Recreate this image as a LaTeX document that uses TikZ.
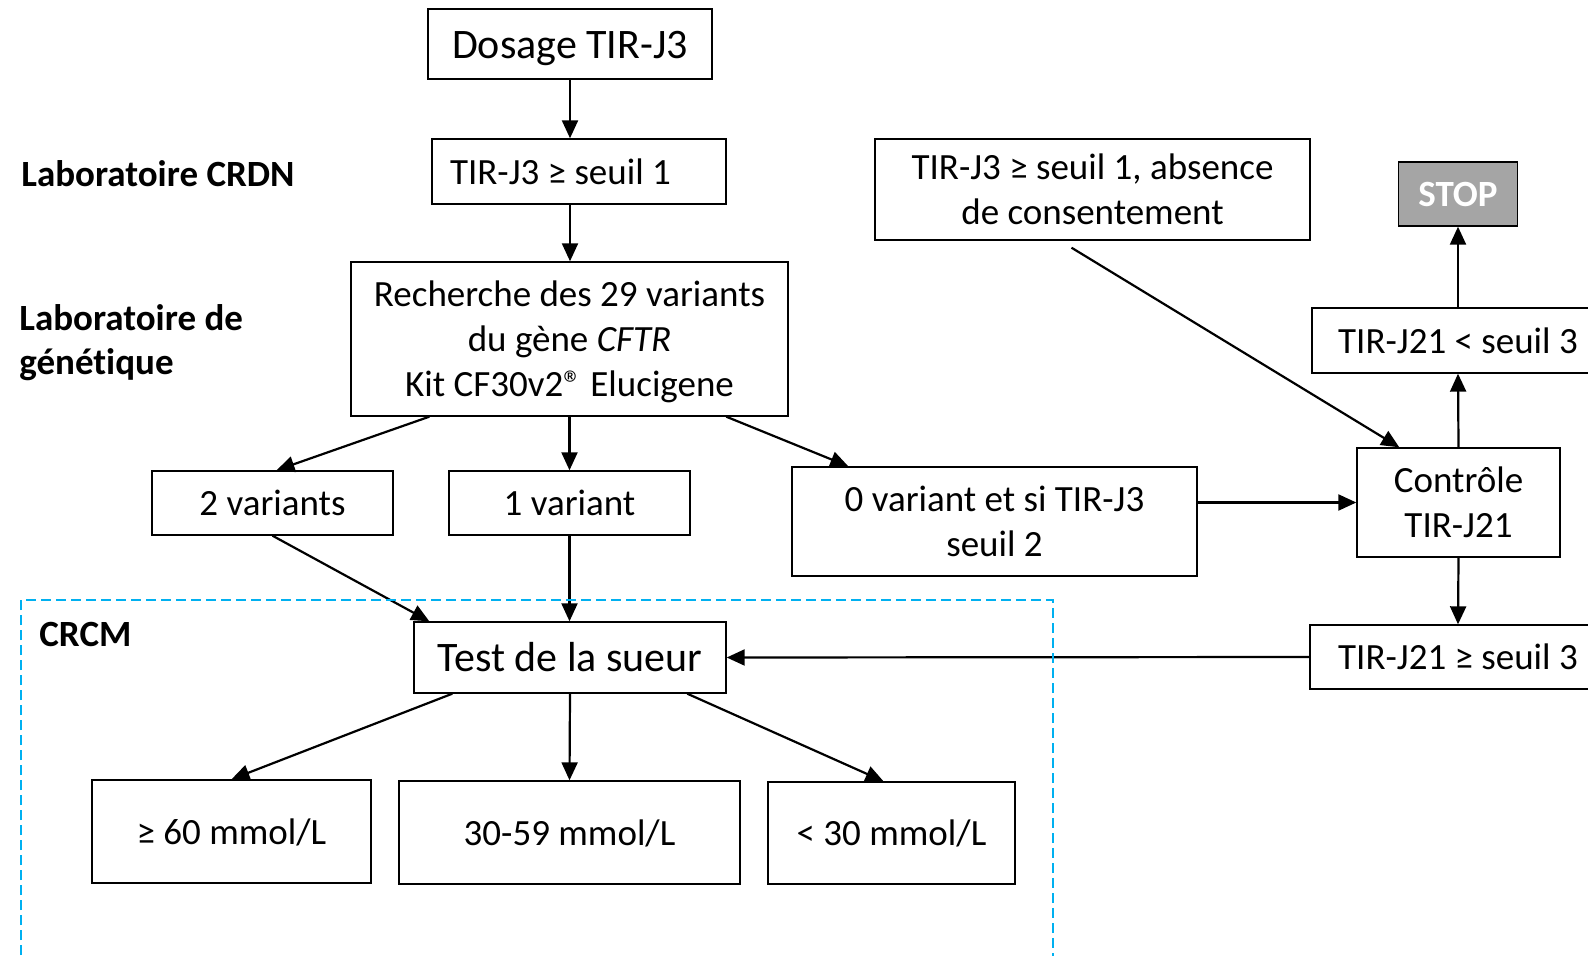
\documentclass[tikz,border=0pt]{standalone}
\usepackage{fontspec}
\setmainfont{Carlito}[Ligatures=NoCommon]
\usetikzlibrary{arrows.meta,calc}
\definecolor{stopgray}{HTML}{A5A5A5}
\definecolor{crcmblue}{HTML}{00B0F0}
\newcommand\fsnorm{\fontsize{18.5}{22.5}\selectfont}
\newcommand\fslarge{\fontsize{21}{25}\selectfont}
\newcommand\topstrut{\rule{0pt}{0.95em}}
\newcommand\botstrut{\rule[-0.27em]{0pt}{0.27em}}
\begin{document}
\begin{tikzpicture}[x=0.5pt,y=-0.5pt,
  box/.style={draw=black,line width=0.7pt,fill=white,inner sep=0pt,align=center,font=\fsnorm},
  one/.style={text height=17.6pt,text depth=5pt},
  onel/.style={font=\fslarge,text height=20pt,text depth=5.7pt},
  lab/.style={inner sep=0pt,font=\fsnorm\bfseries,anchor=base west},
  arr/.style={line width=1.1pt,-{Triangle[length=9pt,width=8pt]}},
  crcm/.style={draw=crcmblue,line width=1pt,dash pattern=on 5pt off 2.5pt}]
\useasboundingbox (0,0) rectangle (1588,956);
\clip (0,0) rectangle (1588,956);
\fill[white] (0,0) rectangle (1588,956);

% left labels
\node[lab] (lcrdn) at (21,187) {Laboratoire CRDN};
\node[lab] (lgena) at (19,331) {Laboratoire de};
\node[lab] (lgenb) at (19,375) {génétique};
\node[lab] (lcrcm) at (39,646) {CRCM};

% boxes
\node[box,onel,minimum width=142pt,minimum height=35pt] (dosage) at (570,44) {Dosage TIR-J3};
\node[box,one,minimum width=147pt,minimum height=32.5pt] (seuil1) at (579,171.5) {TIR-J3 ≥ seuil 1\hspace*{18.5pt}};
\node[box,minimum width=218.5pt,minimum height=77pt] (rech) at (569.5,339) {\topstrut Recherche des 29 variants\\du gène \textit{CFTR}\\Kit CF30v2® Elucigene\botstrut};
\node[box,one,minimum width=120.5pt,minimum height=32pt] (v2) at (272.5,503) {2 variants};
\node[box,one,minimum width=120.5pt,minimum height=32pt] (v1) at (569.5,503) {1 variant};
\node[box,minimum width=202.5pt,minimum height=54.5pt] (v0) at (994.5,521.5) {\topstrut 0 variant et si TIR-J3\\seuil 2\botstrut};
\node[box,onel,minimum width=156pt,minimum height=35.5pt] (test) at (570,657.5) {Test de la sueur};
\node[box,one,minimum width=139.5pt,minimum height=51.5pt] (r60) at (231.5,831.5) {≥ 60 mmol/L};
\node[box,one,minimum width=170.5pt,minimum height=51.5pt] (r3059) at (569.5,832.5) {30-59 mmol/L};
\node[box,one,minimum width=123.5pt,minimum height=51pt] (r30) at (891.5,833) {< 30 mmol/L};
\node[box,minimum width=217.5pt,minimum height=50.5pt] (abs) at (1092.5,189.5) {\topstrut TIR-J3 ≥ seuil 1, absence\\de consentement\botstrut};
\node[box,one,fill=stopgray,text=white,font=\fsnorm\bfseries,minimum width=59.5pt,minimum height=32pt] (stop) at (1458,194) {STOP};
\node[box,one,minimum width=146pt,minimum height=32.5pt] (j21lt) at (1458,340.5) {TIR-J21 < seuil 3};
\node[box,minimum width=101.5pt,minimum height=54.5pt] (ctrl) at (1458.5,502.5) {\topstrut Contrôle\\TIR-J21\botstrut};
\node[box,one,minimum width=148pt,minimum height=32pt] (j21ge) at (1458,657) {TIR-J21 ≥ seuil 3};

% connectors
\draw[arr] (dosage.south) -- (seuil1.north -| dosage.south);
\draw[arr] (seuil1.south -| dosage.south) -- (rech.north -| dosage.south);
\draw[arr] ($(rech.south west)+(79,0)$) -- ($(v2.north)+(4,0)$);
\draw[arr] (rech.south) -- (v1.north);
\draw[arr] ($(rech.south west)+(376,0)$) -- ($(v0.north west)+(57,0)$);
\draw[arr] (v2.south) -- ($(test.north west)+(16,0)$);
\draw[arr] (v1.south) -- (v1.south |- test.north);
\draw[arr] (ctrl.west -| v0.east) -- (ctrl.west);
\draw[arr] ($(abs.south)+(-21,7)$) -- ($(ctrl.north west)+(43,0)$);
\draw[arr] (ctrl.north) -- (j21lt.south);
\draw[arr] (j21lt.north) -- (stop.south);
\draw[arr] (ctrl.south) -- (j21ge.north);
\draw[arr] (j21ge.west) -- (test.east);
\draw[arr] ($(test.south west)+(39,0)$) -- (r60.north);
\draw[arr] (test.south) -- (r3059.north);
\draw[arr] ($(test.south west)+(274,0)$) -- ($(r30.north)+(-8,0)$);

% CRCM zone
\draw[crcm] (21,1000) -- (21,600) -- (1053,600) -- (1053,1000);
\end{tikzpicture}
\end{document}
